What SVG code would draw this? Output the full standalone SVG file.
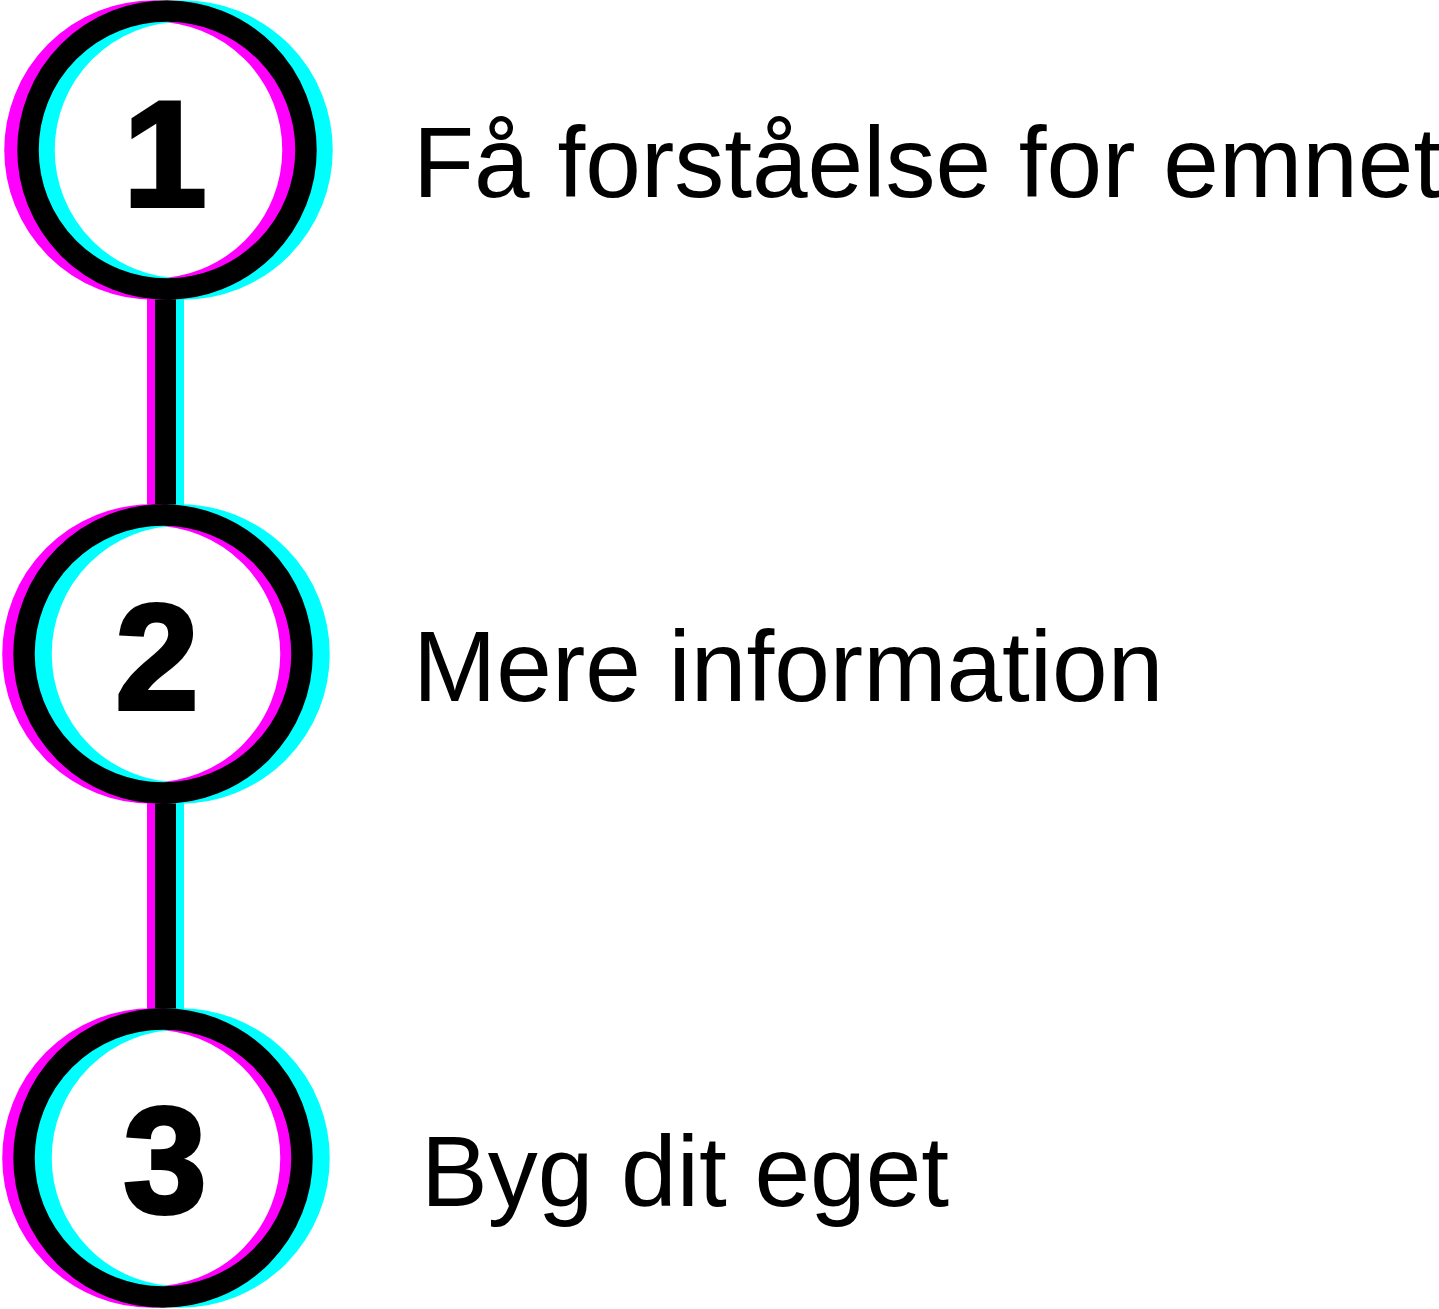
<svg xmlns="http://www.w3.org/2000/svg" width="1439" height="1309" viewBox="0 0 1439 1309">
  <style>
    .ring { fill: none; stroke-width: 21.5; }
    .mag { stroke: #FF00FF; }
    .cya { stroke: #00FFFF; }
    .blk { stroke: #000000; }
    .num { font-family: "Liberation Sans", Arial, sans-serif; font-weight: bold; font-size: 150px; fill: #000; stroke: #000; stroke-width: 4; stroke-linejoin: miter; text-anchor: middle; }
    .label { font-family: "Liberation Sans", Arial, sans-serif; font-size: 100px; fill: #000; }
  </style>
  <rect width="1439" height="1309" fill="#FFFFFF"/>
  <g id="connectors">
    <g id="conn-1-2">
      <rect x="147" y="295" width="20" height="212" fill="#FF00FF"/>
      <rect x="164" y="295" width="20" height="212" fill="#00FFFF"/>
      <rect x="155" y="295" width="21" height="212" fill="#000000"/>
    </g>
    <g id="conn-2-3">
      <rect x="147" y="800" width="20" height="212" fill="#FF00FF"/>
      <rect x="164" y="800" width="20" height="212" fill="#00FFFF"/>
      <rect x="155" y="800" width="21" height="212" fill="#000000"/>
    </g>
  </g>
  <g id="node-1">
    <circle class="ring mag" cx="154" cy="150" r="139"/>
    <circle class="ring cya" cx="183" cy="150" r="139"/>
    <circle class="ring blk" cx="167" cy="150" r="139"/>
    <text class="num" x="165" y="206">1</text>
    <text class="label" x="413" y="197">Få forståelse for emnet</text>
  </g>
  <g id="node-2">
    <circle class="ring mag" cx="152" cy="654" r="139"/>
    <circle class="ring cya" cx="180" cy="654" r="139"/>
    <circle class="ring blk" cx="163" cy="654" r="139"/>
    <text class="num" x="157" y="709">2</text>
    <text class="label" x="413" y="701">Mere information</text>
  </g>
  <g id="node-3">
    <circle class="ring mag" cx="152" cy="1158" r="139"/>
    <circle class="ring cya" cx="180" cy="1158" r="139"/>
    <circle class="ring blk" cx="163" cy="1158" r="139"/>
    <text class="num" x="165" y="1212">3</text>
    <text class="label" x="421" y="1206">Byg dit eget</text>
  </g>
</svg>
